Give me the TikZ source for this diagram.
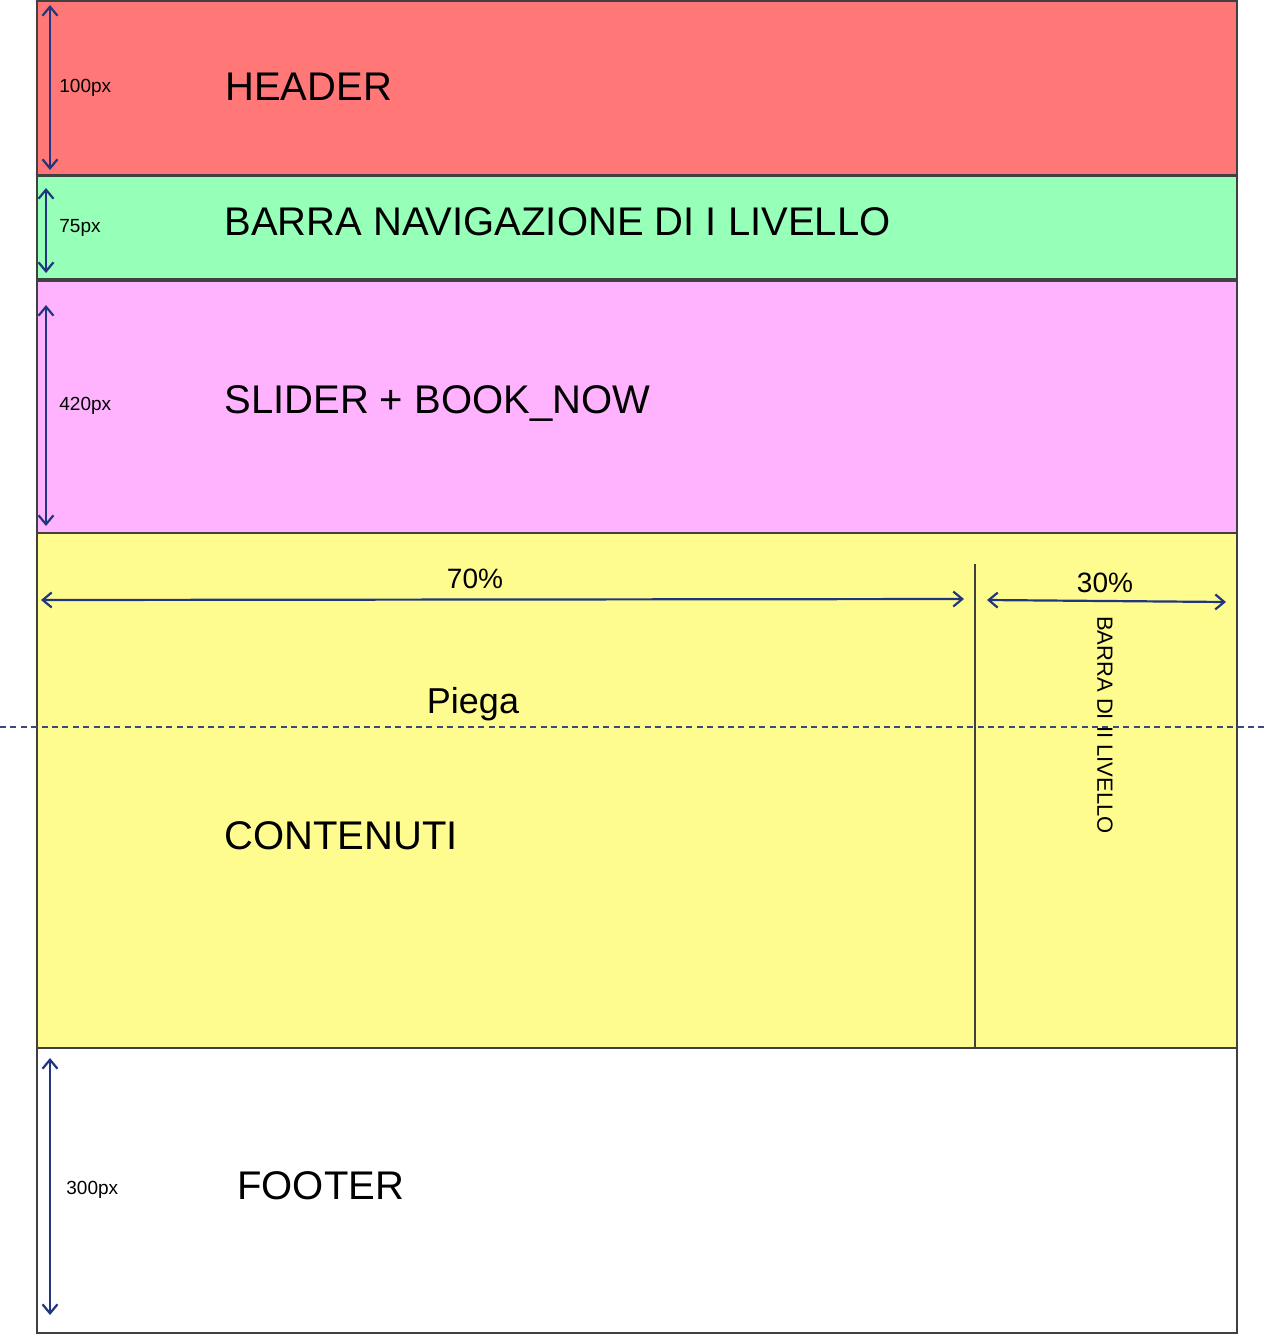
\documentclass[tikz,border=0pt]{standalone}
\usepackage{fontspec}
\setmainfont{Liberation Sans}
\usetikzlibrary{arrows.meta}
\definecolor{hdr}{HTML}{FF7777}
\definecolor{nav}{HTML}{96FFB8}
\definecolor{sld}{HTML}{FFB3FF}
\definecolor{cnt}{HTML}{FFFC8F}
\definecolor{dimc}{HTML}{22367F}
\definecolor{foldc}{HTML}{3A4A80}
\definecolor{edge}{HTML}{404040}
\begin{document}
\begin{tikzpicture}[x=0.5pt,y=-0.5pt,
  band/.style={draw=edge,line width=0.55pt},
  big/.style={anchor=base west,inner sep=0pt,font=\fontsize{20}{22}\selectfont},
  small/.style={anchor=base west,inner sep=0pt,font=\fontsize{9.5}{11}\selectfont},
  pct/.style={anchor=base,inner sep=0pt,font=\fontsize{14}{16}\selectfont},
  dim/.style={draw=dimc,line width=1.1pt,{Straight Barb[length=4.5pt,width=7.5pt]}-{Straight Barb[length=4.5pt,width=7.5pt]}},
  fold/.style={draw=foldc,line width=0.9pt,dash pattern=on 3pt off 2.2pt}]
\useasboundingbox (0,0) rectangle (1266,1335);
% bands
\draw[band,fill=hdr] (37,1) rectangle (1237,175);
\draw[band,fill=nav] (37,176) rectangle (1237,279);
\draw[band,fill=sld] (37,281) rectangle (1237,533);
\draw[band,fill=cnt] (37,533) rectangle (1237,1048);
\draw[band,fill=white] (37,1048) rectangle (1237,1333);
% column divider
\coordinate (dvT) at (975,564);
\coordinate (dvB) at (975,1047);
\draw[draw=edge,line width=0.6pt] (dvT) -- (dvB);
% fold line
\coordinate (fL) at (0,727);
\coordinate (fR) at (1266,727);
\draw[fold] (fL) -- (fR);
% vertical dimensions
\coordinate (h1) at (50,5);   \coordinate (h2) at (50,170);
\coordinate (n1) at (46,188); \coordinate (n2) at (46,273);
\coordinate (s1) at (46,305); \coordinate (s2) at (46,526);
\coordinate (f1) at (50,1058); \coordinate (f2) at (50,1315);
\draw[dim] (h1) -- (h2);
\draw[dim] (n1) -- (n2);
\draw[dim] (s1) -- (s2);
\draw[dim] (f1) -- (f2);
% horizontal dimensions
\coordinate (a1) at (41,600); \coordinate (a2) at (964,599);
\coordinate (b1) at (987,600); \coordinate (b2) at (1226,602);
\draw[dim] (a1) -- (a2);
\draw[dim] (b1) -- (b2);
% small labels
\node[small] (l100) at (59,92) {100px};
\node[small] (l75) at (59,232) {75px};
\node[small] (l420) at (59,410) {420px};
\node[small] (l300) at (66,1194) {300px};
% big labels
\node[big] (tH) at (225,100) {HEADER};
\node[big] (tN) at (224,235) {BARRA NAVIGAZIONE DI I LIVELLO};
\node[big] (tS) at (224,413) {SLIDER + BOOK\_NOW};
\node[big] (tC) at (224,849) {CONTENUTI};
\node[big] (tF) at (237,1199) {FOOTER};
\node[anchor=base,inner sep=0pt,font=\fontsize{18}{20}\selectfont] (tP) at (473,713) {Piega};
\node[pct] (p70) at (475,588) {70\%};
\node[pct] (p30) at (1105,592) {30\%};
\node[inner sep=0pt,rotate=-90,font=\fontsize{11}{13}\selectfont] (tB) at (1105,725) {BARRA DI II LIVELLO};
\end{tikzpicture}
\end{document}
